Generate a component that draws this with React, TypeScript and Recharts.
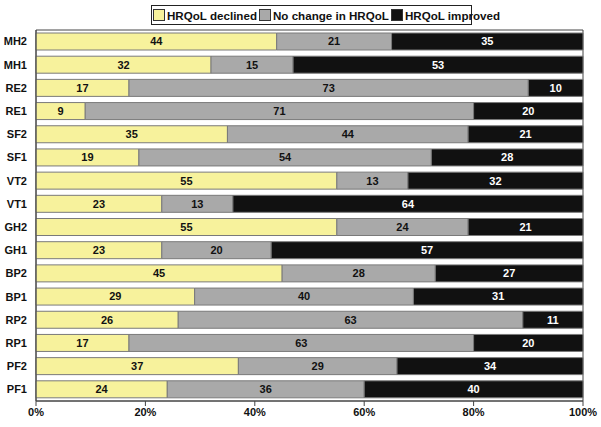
import React from "react";
import { BarChart, Bar, XAxis, YAxis, LabelList, ReferenceArea } from "recharts";

const categories = ["MH2", "MH1", "RE2", "RE1", "SF2", "SF1", "VT2", "VT1", "GH2", "GH1", "BP2", "BP1", "RP2", "RP1", "PF2", "PF1"];
const declined = [44, 32, 17, 9, 35, 19, 55, 23, 55, 23, 45, 29, 26, 17, 37, 24];
const noChange = [21, 15, 73, 71, 44, 54, 13, 13, 24, 20, 28, 40, 63, 63, 29, 36];
const improved = [35, 53, 10, 20, 21, 28, 32, 64, 21, 57, 27, 31, 11, 20, 34, 40];
const xTicks = [0, 0.2, 0.4, 0.6, 0.8, 1];

const series = [
  { key: "declined", name: "HRQoL declined", color: "#f7f29c", text: "#111" },
  { key: "noChange", name: "No change in HRQoL", color: "#a9a9a9", text: "#111" },
  { key: "improved", name: "HRQoL improved", color: "#111111", text: "#fff" },
];

const data = categories.map((c, i) => ({
  name: c,
  declined: declined[i],
  noChange: noChange[i],
  improved: improved[i],
}));

const FONT = "'Liberation Sans', Arial, sans-serif";

export default function App() {
  return (
    <div style={{ position: "absolute", left: 0, top: 0, width: 601, height: 427, background: "#fff" }}>
      <div
        style={{
          position: "absolute",
          left: 151,
          top: 5,
          width: 319,
          height: 18,
          border: "1px solid #222",
          display: "flex",
          alignItems: "center",
          fontFamily: FONT,
          fontWeight: "bold",
          fontSize: 11.6,
          color: "#111",
          whiteSpace: "nowrap",
          boxSizing: "content-box",
          zIndex: 2,
        }}
      >
        {series.map((s, i) => (
          <span key={s.key} style={{ display: "flex", alignItems: "center", marginLeft: i === 0 ? 1 : 2 }}>
            <span
              style={{
                display: "inline-block",
                width: 10,
                height: 10,
                background: s.color,
                border: "1px solid #333",
                marginRight: 2,
              }}
            />
            {s.name}
          </span>
        ))}
      </div>
      <BarChart
        width={601}
        height={427}
        data={data}
        layout="vertical"
        stackOffset="expand"
        margin={{ top: 30, right: 18, bottom: 0, left: 0 }}
        barCategoryGap={6}
      >
        <XAxis
          type="number"
          domain={[0, 1]}
          ticks={xTicks}
          tickFormatter={(v: number) => `${Math.round(v * 100)}%`}
          axisLine={{ stroke: "#444" }}
          tickLine={{ stroke: "#444" }}
          tickSize={5}
          height={26}
          tick={{ fontFamily: FONT, fontWeight: "bold", fontSize: 11, fill: "#111" }}
          interval={0}
        />
        <YAxis
          type="category"
          dataKey="name"
          width={36}
          axisLine={{ stroke: "#444" }}
          tickLine={false}
          tickSize={0}
          tickMargin={9}
          tick={{ fontFamily: FONT, fontWeight: "bold", fontSize: 11, fill: "#111" }}
          interval={0}
        />
        <ReferenceArea x1={0} x2={1} fill="none" stroke="#444" ifOverflow="visible" />
        {series.map((s) => (
          <Bar
            key={s.key}
            dataKey={s.key}
            name={s.name}
            stackId="a"
            fill={s.color}
            stroke="#7a7a7a"
            strokeWidth={1}
            barSize={17}
            isAnimationActive={false}
          >
            <LabelList
              dataKey={s.key}
              position="center"
              fill={s.text}
              style={{ fontFamily: FONT, fontWeight: "bold", fontSize: 11 }}
            />
          </Bar>
        ))}
      </BarChart>
    </div>
  );
}
